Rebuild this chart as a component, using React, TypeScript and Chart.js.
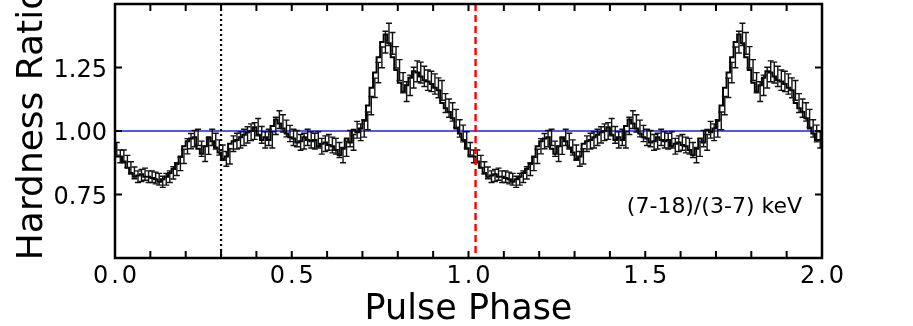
import React, { useEffect, useRef } from "react";
import { Chart, registerables } from "chart.js";

Chart.register(...registerables);

// ---- data (one pulse cycle, 100 phase bins, repeated twice) ----
const binsPerCycle = 100;
const cycles = 2;
const hardness = [
  0.93, 0.9, 0.9, 0.88, 0.855, 0.835, 0.82, 0.825, 0.83, 0.82,
  0.82, 0.815, 0.81, 0.8, 0.81, 0.82, 0.835, 0.85, 0.87, 0.9,
  0.94, 0.96, 0.97, 0.975, 0.93, 0.91, 0.94, 0.975, 0.96, 0.935,
  0.915, 0.89, 0.9, 0.95, 0.96, 0.965, 0.975, 0.985, 0.995, 1.0,
  1.015, 0.985, 0.965, 0.975, 0.965, 1.02, 1.045, 1.03, 1.01, 0.99,
  0.975, 0.97, 0.955, 0.96, 0.975, 0.965, 0.96, 0.965, 0.94, 0.95,
  0.955, 0.945, 0.94, 0.925, 0.905, 0.93, 0.97, 0.955, 1.005, 0.995,
  1.01, 1.04, 1.1, 1.17, 1.23, 1.29, 1.35, 1.38, 1.345, 1.29,
  1.24, 1.19, 1.155, 1.18, 1.21, 1.235, 1.23, 1.215, 1.2, 1.195,
  1.185, 1.17, 1.16, 1.11, 1.09, 1.075, 1.05, 1.01, 0.99, 0.965,
];
const hardnessErr = [
  0.025, 0.025, 0.025, 0.024, 0.024, 0.023, 0.023, 0.024, 0.024, 0.023,
  0.023, 0.023, 0.023, 0.022, 0.023, 0.023, 0.024, 0.025, 0.026, 0.028,
  0.03, 0.03, 0.032, 0.032, 0.03, 0.03, 0.032, 0.032, 0.031, 0.03,
  0.03, 0.029, 0.03, 0.031, 0.031, 0.032, 0.032, 0.032, 0.033, 0.033,
  0.034, 0.033, 0.032, 0.032, 0.032, 0.034, 0.035, 0.034, 0.033, 0.032,
  0.032, 0.032, 0.031, 0.031, 0.032, 0.032, 0.031, 0.032, 0.031, 0.031,
  0.031, 0.031, 0.031, 0.03, 0.03, 0.03, 0.032, 0.031, 0.033, 0.033,
  0.034, 0.035, 0.036, 0.038, 0.04, 0.041, 0.043, 0.044, 0.043, 0.042,
  0.041, 0.04, 0.039, 0.04, 0.041, 0.041, 0.041, 0.04, 0.04, 0.04,
  0.04, 0.039, 0.039, 0.037, 0.036, 0.036, 0.035, 0.034, 0.033, 0.032,
];

const xTicks = [0, 0.5, 1.0, 1.5, 2.0];
const xTickLabels = ["0.0", "0.5", "1.0", "1.5", "2.0"];
const xMinorTicks = [0.1, 0.2, 0.3, 0.4, 0.6, 0.7, 0.8, 0.9, 1.1, 1.2, 1.3, 1.4, 1.6, 1.7, 1.8, 1.9];
const yTicks = [0.75, 1.0, 1.25];
const yTickLabels = ["0.75", "1.00", "1.25"];
const xRange = [0, 2];
const yRange = [0.5, 1.5];
const refLevel = 1.0;
const dottedPhase = 0.3;
const dashedPhase = 1.02;
const bandLabel = "(7-18)/(3-7) keV";
const xTitle = "Pulse Phase";
const yTitle = "Hardness Ratio";

const FONT = '"DejaVu Sans", sans-serif';

export default function App() {
  const ref = useRef<HTMLCanvasElement | null>(null);

  useEffect(() => {
    if (!ref.current) return;

    const points: { x: number; y: number }[] = [];
    for (let c = 0; c < cycles; c++) {
      for (let i = 0; i < binsPerCycle; i++) {
        points.push({ x: c + i / binsPerCycle, y: hardness[i] });
      }
    }
    points.push({ x: cycles, y: hardness[binsPerCycle - 1] });

    const refLinePlugin = {
      id: "refLine",
      beforeDatasetsDraw(chart: any) {
        const { ctx, chartArea, scales } = chart;
        const y = scales.y.getPixelForValue(refLevel);
        ctx.save();
        ctx.strokeStyle = "rgb(30,30,235)";
        ctx.lineWidth = 1.5;
        ctx.beginPath();
        ctx.moveTo(chartArea.left, y);
        ctx.lineTo(chartArea.right, y);
        ctx.stroke();
        ctx.restore();
      },
    };

    const overlayPlugin = {
      id: "overlay",
      afterDatasetsDraw(chart: any) {
        const { ctx, chartArea, scales } = chart;
        const xs = scales.x;
        const ys = scales.y;
        ctx.save();
        ctx.beginPath();
        ctx.rect(chartArea.left, chartArea.top, chartArea.right - chartArea.left, chartArea.bottom - chartArea.top);
        ctx.clip();

        // error bars
        ctx.strokeStyle = "#111";
        ctx.lineWidth = 1.4;
        for (let c = 0; c < cycles; c++) {
          for (let i = 0; i < binsPerCycle; i++) {
            const xc = xs.getPixelForValue(c + (i + 0.5) / binsPerCycle);
            const v = hardness[i];
            const e = hardnessErr[i];
            const yt = ys.getPixelForValue(v + e);
            const yb = ys.getPixelForValue(v - e);
            ctx.beginPath();
            ctx.moveTo(xc, yt);
            ctx.lineTo(xc, yb);
            ctx.moveTo(xc - 3, yt);
            ctx.lineTo(xc + 3, yt);
            ctx.moveTo(xc - 3, yb);
            ctx.lineTo(xc + 3, yb);
            ctx.stroke();
          }
        }

        // dotted vertical line
        const xd = xs.getPixelForValue(dottedPhase);
        ctx.strokeStyle = "#000";
        ctx.lineWidth = 2.2;
        ctx.setLineDash([2, 3]);
        ctx.beginPath();
        ctx.moveTo(xd, chartArea.top);
        ctx.lineTo(xd, chartArea.bottom);
        ctx.stroke();

        // red dashed vertical line
        const xr = xs.getPixelForValue(dashedPhase);
        ctx.strokeStyle = "#ff0000";
        ctx.lineWidth = 2.4;
        ctx.setLineDash([7, 4]);
        ctx.beginPath();
        ctx.moveTo(xr, chartArea.top);
        ctx.lineTo(xr, chartArea.bottom);
        ctx.stroke();
        ctx.setLineDash([]);
        ctx.restore();
      },
      afterDraw(chart: any) {
        const { ctx, chartArea, scales } = chart;
        const xs = scales.x;
        const ys = scales.y;
        const { left, right, top, bottom } = chartArea;
        ctx.save();

        // ticks (inward, all four sides)
        ctx.strokeStyle = "#000";
        ctx.lineWidth = 2;
        const tl = 7;
        ctx.beginPath();
        [...xTicks, ...xMinorTicks].forEach((t) => {
          const x = xs.getPixelForValue(t);
          ctx.moveTo(x, bottom);
          ctx.lineTo(x, bottom - tl);
          ctx.moveTo(x, top);
          ctx.lineTo(x, top + tl);
        });
        yTicks.forEach((t) => {
          const y = ys.getPixelForValue(t);
          ctx.moveTo(left, y);
          ctx.lineTo(left + tl, y);
          ctx.moveTo(right, y);
          ctx.lineTo(right - tl, y);
        });
        ctx.stroke();

        // frame
        ctx.lineWidth = 2.5;
        ctx.strokeRect(left, top, right - left, bottom - top);

        // tick labels
        ctx.fillStyle = "#000";
        ctx.font = `24px ${FONT}`;
        ctx.textAlign = "center";
        ctx.textBaseline = "alphabetic";
        (ctx as any).letterSpacing = "3px";
        xTicks.forEach((t, k) => {
          const x = xs.getPixelForValue(t);
          ctx.fillText(xTickLabels[k], x + 1.5, bottom + 25);
        });
        (ctx as any).letterSpacing = "0px";
        ctx.textAlign = "right";
        yTicks.forEach((t, k) => {
          const y = ys.getPixelForValue(t);
          ctx.fillText(yTickLabels[k], left - 8, y + 9);
        });

        // axis titles
        ctx.font = `35px ${FONT}`;
        ctx.textAlign = "center";
        ctx.fillText(xTitle, (left + right) / 2, 319);
        ctx.save();
        ctx.translate(42, 124);
        ctx.rotate(-Math.PI / 2);
        ctx.font = `36px ${FONT}`;
        ctx.fillText(yTitle, 0, 0);
        ctx.restore();

        // band annotation
        ctx.font = `22px ${FONT}`;
        ctx.textAlign = "right";
        ctx.fillText(bandLabel, right - 20, 213);

        ctx.restore();
      },
    };

    const chart = new Chart(ref.current, {
      type: "line",
      data: {
        datasets: [
          {
            data: points,
            stepped: "after",
            borderColor: "#000",
            borderWidth: 2,
            pointRadius: 0,
            fill: false,
          },
        ],
      },
      options: {
        animation: false,
        responsive: false,
        maintainAspectRatio: false,
        layout: { padding: { left: 0, top: 4, right: 91, bottom: 0 } },
        plugins: { legend: { display: false }, tooltip: { enabled: false } },
        scales: {
          x: {
            type: "linear",
            min: xRange[0],
            max: xRange[1],
            grid: { display: false },
            border: { display: false },
            ticks: { display: false },
            afterFit: (s: any) => {
              s.height = 68;
            },
          },
          y: {
            type: "linear",
            min: yRange[0],
            max: yRange[1],
            grid: { display: false },
            border: { display: false },
            ticks: { display: false },
            afterFit: (s: any) => {
              s.width = 115;
            },
          },
        },
      },
      plugins: [refLinePlugin, overlayPlugin],
    } as any);

    return () => chart.destroy();
  }, []);

  return (
    <div style={{ position: "absolute", left: 0, top: 0, width: 913, height: 326, background: "#fff" }}>
      <canvas ref={ref} width={913} height={326} style={{ width: 913, height: 326, display: "block" }} />
    </div>
  );
}
